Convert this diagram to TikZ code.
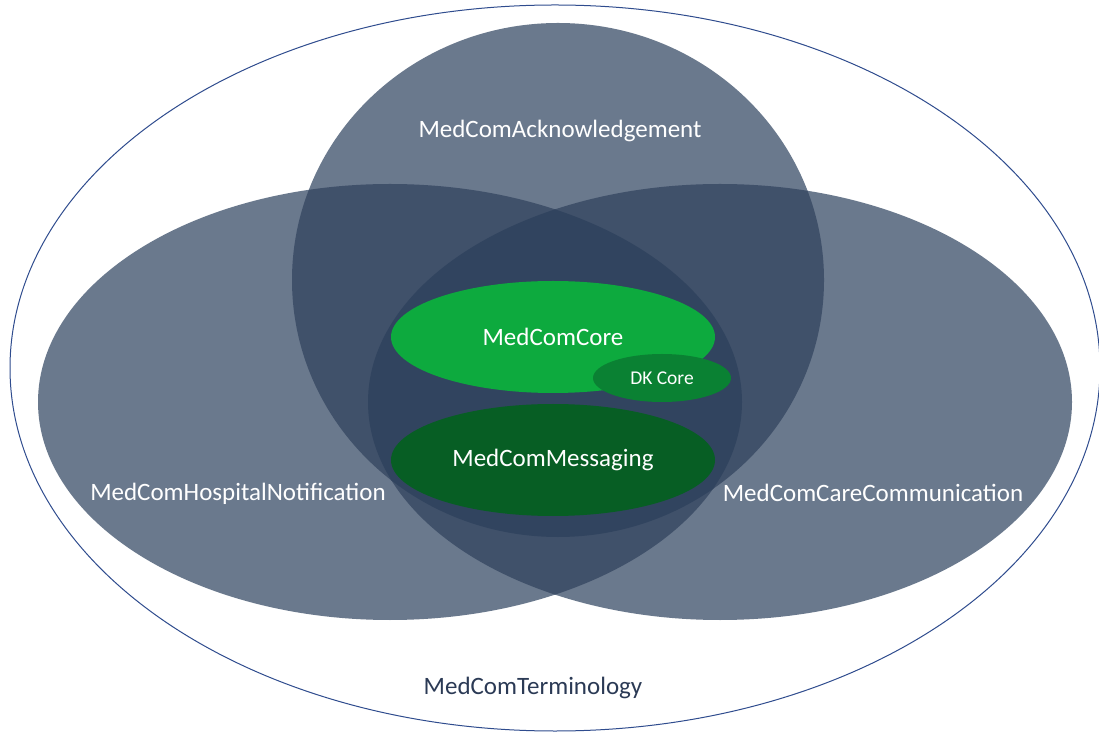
\documentclass[tikz,border=0pt]{standalone}
\usepackage{fontspec}
\setmainfont{Carlito}
\usetikzlibrary{shapes.geometric}
\definecolor{onecol}{HTML}{6A798D}
\definecolor{twocol}{HTML}{40516A}
\definecolor{threecol}{HTML}{31445F}
\definecolor{rimcol}{HTML}{2F4C8E}
\definecolor{termcol}{HTML}{2B3A55}
\definecolor{corecol}{HTML}{0DAA3E}
\definecolor{dkcol}{HTML}{0A8133}
\definecolor{msgcol}{HTML}{075E24}
\tikzset{
  lbl/.style={text=white,font=\fontsize{25}{29}\selectfont},
  blob/.style={ellipse,inner sep=0pt,text=white,font=\fontsize{25}{29}\selectfont},
}
\begin{document}
\begin{tikzpicture}[x=1pt,y=1pt]
\useasboundingbox (0,0) rectangle (1099,731);

\filldraw[fill=white,draw=rimcol,line width=1pt] (555,363) ellipse [x radius=545,y radius=363];

\fill[onecol] (558,451) ellipse [x radius=266,y radius=257];
\fill[onecol] (390,329) ellipse [x radius=352,y radius=218];
\fill[onecol] (720,329) ellipse [x radius=352,y radius=218];

\begin{scope}
  \clip (558,451) ellipse [x radius=266,y radius=257];
  \fill[twocol] (390,329) ellipse [x radius=352,y radius=218];
\end{scope}
\begin{scope}
  \clip (558,451) ellipse [x radius=266,y radius=257];
  \fill[twocol] (720,329) ellipse [x radius=352,y radius=218];
\end{scope}
\begin{scope}
  \clip (390,329) ellipse [x radius=352,y radius=218];
  \fill[twocol] (720,329) ellipse [x radius=352,y radius=218];
\end{scope}
\begin{scope}
  \clip (558,451) ellipse [x radius=266,y radius=257];
  \clip (390,329) ellipse [x radius=352,y radius=218];
  \fill[threecol] (720,329) ellipse [x radius=352,y radius=218];
\end{scope}

\node[blob,fill=corecol,minimum width=324,minimum height=112] (core) at (553,394) {MedComCore};
\node[blob,fill=dkcol,minimum width=138,minimum height=48,font=\fontsize{19.5}{23}\selectfont] (dk) at (662,353) {DK Core};
\node[blob,fill=msgcol,minimum width=324,minimum height=112] (msg) at (553,271) {MedComMessaging};

\node[lbl] (ack)  at (560,600) {MedComAcknowledgement};
\node[lbl] (hosp) at (238,237) {MedComHospitalNotification};
\node[lbl] (care) at (873,238) {MedComCareCommunication};
\node[lbl,text=termcol] (term) at (533,43) {MedComTerminology};

\end{tikzpicture}
\end{document}
